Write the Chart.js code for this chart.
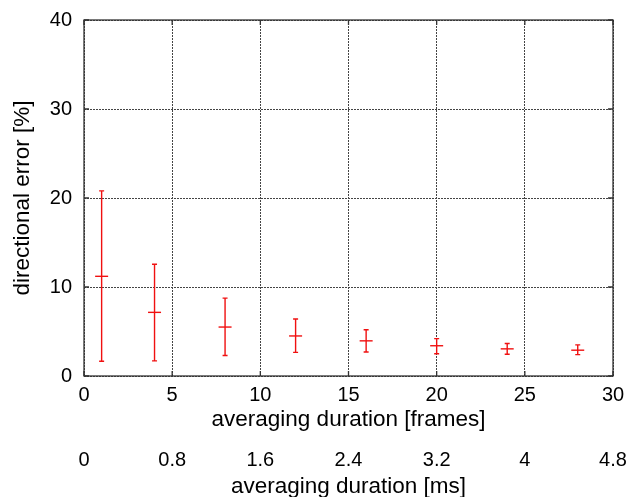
<!DOCTYPE html>
<html>
<head>
<meta charset="utf-8">
<script src="https://cdn.jsdelivr.net/npm/chart.js@4/dist/chart.umd.min.js"></script>
<style>
  html, body { margin: 0; padding: 0; background: #fff; }
  canvas { display: block; }
</style>
</head>
<body>
<canvas id="errChart" width="632" height="497"></canvas>
<script>
// averaging duration in frames and the directional error statistics
const frames = [1, 4, 8, 12, 16, 20, 24, 28];
const meanErr = [11.2, 7.15, 5.5, 4.5, 3.95, 3.4, 3.05, 2.9];
const upperErr = [20.8, 12.55, 8.75, 6.4, 5.2, 4.2, 3.65, 3.5];
const lowerErr = [1.65, 1.7, 2.3, 2.65, 2.7, 2.5, 2.45, 2.4];

// tick labels
const frameTicks = [0, 5, 10, 15, 20, 25, 30];
const msTicks = [0, 0.8, 1.6, 2.4, 3.2, 4, 4.8];
const errTicks = [0, 10, 20, 30, 40];

const FAMILY = '"Liberation Sans", Arial, Helvetica, sans-serif';
const TICK_FONT = { family: FAMILY, size: 20 };
const TITLE_FONT = { family: FAMILY, size: 22.5 };
const RED = '#f01010';

// vertical bars with caps, frame and inward tick marks
const errorBars = {
    id: 'errorBars',
    afterDatasetsDraw(chart) {
        const ctx = chart.ctx;
        const xs = chart.scales.x;
        const ys = chart.scales.y;
        const area = chart.chartArea;

        ctx.save();
        ctx.strokeStyle = RED;
        ctx.lineWidth = 1.4;
        frames.forEach((f, i) => {
            const px = xs.getPixelForValue(f);
            const top = ys.getPixelForValue(upperErr[i]);
            const bot = ys.getPixelForValue(lowerErr[i]);
            ctx.beginPath();
            ctx.moveTo(px, top);
            ctx.lineTo(px, bot);
            ctx.moveTo(px - 2.5, top);
            ctx.lineTo(px + 2.5, top);
            ctx.moveTo(px - 2.5, bot);
            ctx.lineTo(px + 2.5, bot);
            ctx.stroke();
        });

        ctx.strokeStyle = '#333';
        ctx.lineWidth = 1.3;
        ctx.beginPath();
        frameTicks.forEach(v => {
            const px = xs.getPixelForValue(v);
            ctx.moveTo(px, area.bottom);
            ctx.lineTo(px, area.bottom - 5);
            ctx.moveTo(px, area.top);
            ctx.lineTo(px, area.top + 5);
        });
        errTicks.forEach(v => {
            const py = ys.getPixelForValue(v);
            ctx.moveTo(area.left, py);
            ctx.lineTo(area.left + 5, py);
            ctx.moveTo(area.right, py);
            ctx.lineTo(area.right - 5, py);
        });
        ctx.stroke();
        ctx.strokeRect(area.left, area.top, area.right - area.left, area.bottom - area.top);
        ctx.restore();
    }
};

const gridStyle = {
    color: '#444',
    lineWidth: 1,
    drawTicks: false
};

// fixed box size, no extra room for the outer tick labels
function fixHeight(h) {
    return s => {
        s.height = h;
        s.paddingLeft = 0;
        s.paddingRight = 0;
    };
}

new Chart(document.getElementById('errChart').getContext('2d'), {
    type: 'scatter',
    data: {
        datasets: [{
            data: frames.map((f, i) => ({ x: f, y: meanErr[i] })),
            pointStyle: 'line',
            pointRadius: 6.5,
            pointHoverRadius: 6.5,
            borderColor: RED,
            backgroundColor: RED,
            borderWidth: 1.4
        }]
    },
    options: {
        responsive: false,
        animation: false,
        events: [],
        layout: { padding: { top: 20, right: 19, left: 0, bottom: 0 } },
        plugins: {
            legend: { display: false },
            tooltip: { enabled: false }
        },
        scales: {
            x: {
                type: 'linear',
                position: 'bottom',
                weight: 0,
                min: 0,
                max: 30,
                afterBuildTicks: s => { s.ticks = frameTicks.map(v => ({ value: v })); },
                afterFit: fixHeight(58),
                grid: gridStyle,
                border: { display: false, dash: [2, 1] },
                ticks: { font: TICK_FONT, color: '#000', padding: 7, maxRotation: 0 },
                title: {
                    display: true,
                    text: 'averaging duration [frames]',
                    font: TITLE_FONT,
                    color: '#000',
                    padding: { top: 0, bottom: 0.5 }
                }
            },
            x2: {
                type: 'linear',
                position: 'bottom',
                weight: 1,
                min: 0,
                max: 4.8,
                afterBuildTicks: s => { s.ticks = msTicks.map(v => ({ value: v })); },
                afterFit: fixHeight(63),
                grid: { display: false, drawTicks: false },
                border: { display: false },
                ticks: { font: TICK_FONT, color: '#000', padding: 14, maxRotation: 0, callback: v => String(v) },
                title: {
                    display: true,
                    text: 'averaging duration [ms]',
                    font: TITLE_FONT,
                    color: '#000',
                    padding: { top: 0, bottom: -3 }
                }
            },
            y: {
                type: 'linear',
                min: 0,
                max: 40,
                afterBuildTicks: s => { s.ticks = errTicks.map(v => ({ value: v })); },
                afterFit: s => {
                    s.width = 84;
                    s.paddingTop = 0;
                    s.paddingBottom = 0;
                },
                grid: gridStyle,
                border: { display: false, dash: [2, 1] },
                ticks: { font: TICK_FONT, color: '#000', padding: 12 },
                title: {
                    display: true,
                    text: 'directional error [%]',
                    font: TITLE_FONT,
                    color: '#000',
                    padding: { top: 9, bottom: 0 }
                }
            }
        }
    },
    plugins: [errorBars]
});
</script>
</body>
